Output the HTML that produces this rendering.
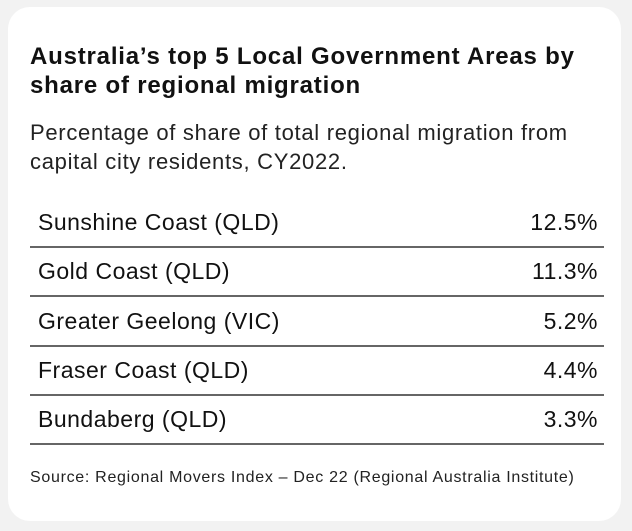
<!DOCTYPE html>
<html><head><meta charset="utf-8"><style>
html,body{margin:0;padding:0;width:632px;height:531px;background:#f2f2f2;overflow:hidden}
.card{position:absolute;left:8px;top:7px;width:613px;height:514px;background:#fff;border-radius:22px}
.title{position:absolute;left:22px;top:35px;font:bold 24px/29px "Liberation Sans",sans-serif;color:#111;letter-spacing:0.8px;white-space:nowrap}
.sub{position:absolute;left:22px;top:111px;font:22px/29px "Liberation Sans",sans-serif;color:#222;letter-spacing:0.7px;white-space:nowrap}
.row{position:absolute;left:22px;width:574px;height:48px;border-bottom:2px solid #666;font:23px "Liberation Sans",sans-serif;color:#111;letter-spacing:0.5px}
.row span{position:absolute;top:11px}
.row .l{left:8px}.row .r{right:6px}
.src{position:absolute;left:22px;top:462px;font:16px "Liberation Sans",sans-serif;color:#222;letter-spacing:0.7px;white-space:nowrap}
</style></head><body>
<div class="card">
<div class="title">Australia’s top 5 Local Government Areas by<br>share of regional migration</div>
<div class="sub">Percentage of share of total regional migration from<br>capital city residents, CY2022.</div>
<div id="rows"></div>
<div class="src">Source: Regional Movers Index – Dec 22 (Regional Australia Institute)</div>
</div>
<script>
const categories=["Sunshine Coast (QLD)","Gold Coast (QLD)","Greater Geelong (VIC)","Fraser Coast (QLD)","Bundaberg (QLD)"];
const values=[12.5,11.3,5.2,4.4,3.3];
const host=document.getElementById('rows');
categories.forEach((c,i)=>{
  const r=document.createElement('div');r.className='row';r.style.top=(191+i*49.3)+'px';
  
  
  const l=document.createElement('span');l.className='l';l.textContent=c;
  
  
  const v=document.createElement('span');v.className='r';v.textContent=values[i].toFixed(1)+'%';
  
  
  r.appendChild(l);r.appendChild(v);host.appendChild(r);
});
</script>
</body></html>
